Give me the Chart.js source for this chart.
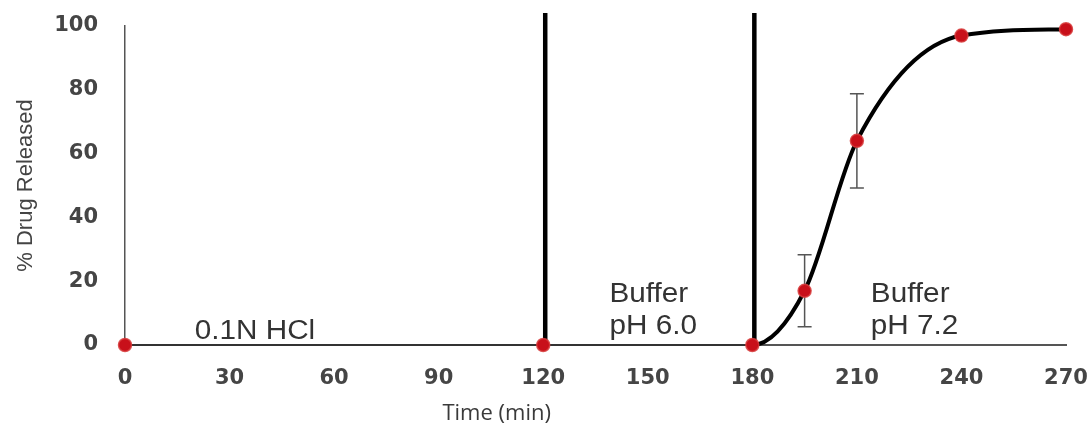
<!DOCTYPE html>
<html>
<head>
<meta charset="utf-8">
<script src="https://cdn.jsdelivr.net/npm/chart.js@4.4.0/dist/chart.umd.min.js"></script>
<style>
  html, body { margin: 0; background: #fff; }
  #wrap { width: 1092px; height: 433px; position: relative; }
</style>
</head>
<body>
<div id="wrap"><canvas id="myChart"></canvas></div>
<script>
const times = [0, 120, 180, 195, 210, 240, 270];
const released = [0, 0, 0, 17, 64, 97, 99];
const releasedSd = [0, 0, 0, 11.3, 14.8, 0, 0];
const phaseChanges = [120, 180];
const phaseNames = [['0.1N HCl'], ['Buffer', 'pH 6.0'], ['Buffer', 'pH 7.2']];
const phaseLabelAt = [20, 139, 214];
const xTicks = [0, 30, 60, 90, 120, 150, 180, 210, 240, 270];
const yTicks = [0, 20, 40, 60, 80, 100];
const xTitle = 'Time (min)';
const yTitle = '% Drug Released';

const ctx = document.getElementById('myChart');

// error bars + phase boundaries, drawn under the curve
const underlay = {
  id: 'underlay',
  beforeDatasetsDraw(chart) {
    const c = chart.ctx, x = chart.scales.x, y = chart.scales.y;
    c.save();
    c.strokeStyle = '#555';
    c.lineWidth = 1.5;
    releasedSd.forEach((sd, i) => {
      if (!sd) return;
      const px = x.getPixelForValue(times[i]);
      const top = y.getPixelForValue(released[i] + sd);
      const bot = y.getPixelForValue(released[i] - sd);
      c.beginPath();
      c.moveTo(px, top); c.lineTo(px, bot);
      c.moveTo(px - 7, top); c.lineTo(px + 7, top);
      c.moveTo(px - 7, bot); c.lineTo(px + 7, bot);
      c.stroke();
    });
    c.strokeStyle = '#000';
    c.lineWidth = 4.5;
    phaseChanges.forEach(t => {
      const px = x.getPixelForValue(t) + 2;
      c.beginPath();
      c.moveTo(px, y.getPixelForValue(0));
      c.lineTo(px, chart.chartArea.top - 13);
      c.stroke();
    });
    c.restore();
  },
  afterDraw(chart) {
    const c = chart.ctx, x = chart.scales.x, y = chart.scales.y;
    const base = y.getPixelForValue(0);
    c.save();
    c.fillStyle = '#333';
    c.font = '27px "Liberation Sans", Arial, sans-serif';
    c.textBaseline = 'alphabetic';
    phaseNames.forEach((lines, i) => {
      const px = x.getPixelForValue(phaseLabelAt[i]);
      lines.forEach((txt, j) => {
        const fromBottom = lines.length - 1 - j;
        const by = lines.length === 1 ? base - 6 : base - 11 - fromBottom * 32;
        c.save();
        c.translate(px, by);
        c.scale(1.1, 1);
        c.fillText(txt, 0, 0);
        c.restore();
      });
    });
    // x axis title
    c.fillStyle = '#3a3a3a';
    c.font = '22px "Open Sans", sans-serif';
    c.textAlign = 'center';
    c.textBaseline = 'middle';
    const a = chart.chartArea;
    c.fillText(xTitle, a.left + (a.right - a.left) * 0.395, 414);
    c.restore();
  }
};

new Chart(ctx, {
  type: 'line',
  data: {
    datasets: [{
      data: times.map((t, i) => ({ x: t, y: released[i] })),
      borderColor: '#000',
      borderWidth: 4,
      cubicInterpolationMode: 'monotone',
      tension: 0.4,
      pointRadius: 6.5,
      pointBackgroundColor: '#c8101a',
      pointBorderColor: 'rgba(215,60,60,0.85)',
      pointBorderWidth: 1.5,
      clip: false,
      segment: {
        borderWidth: s => s.p1DataIndex <= 2 ? 2 : 4,
        borderColor: s => s.p1DataIndex <= 2 ? '#333' : '#000'
      }
    }]
  },
  options: {
    responsive: true,
    maintainAspectRatio: false,
    animation: false,
    events: [],
    layout: { padding: { left: 0, right: 26, top: 26, bottom: 0 } },
    plugins: { legend: { display: false }, tooltip: { enabled: false } },
    scales: {
      x: {
        type: 'linear',
        min: 0,
        max: 270,
        afterBuildTicks: s => { s.ticks = xTicks.map(v => ({ value: v })); },
        afterFit: s => { s.height = 88; s.paddingLeft = 0; s.paddingRight = 0; },
        grid: { display: false, drawTicks: false },
        border: { display: true, color: '#555', width: 2 },
        ticks: {
          padding: 21,
          color: '#454545',
          font: { family: 'DejaVu Sans', size: 21, weight: 'bold' }
        }
      },
      y: {
        min: 0,
        max: 100,
        afterBuildTicks: s => { s.ticks = yTicks.map(v => ({ value: v })); },
        afterFit: s => { s.width = 125; s.paddingTop = 0; s.paddingBottom = 0; },
        grid: { display: false, drawTicks: false },
        border: { display: true, color: '#555', width: 1.5 },
        ticks: {
          padding: 27,
          color: '#454545',
          font: { family: 'DejaVu Sans', size: 21, weight: 'bold' }
        },
        title: {
          display: true,
          text: yTitle,
          color: '#444',
          padding: { top: 13, bottom: 0 },
          font: { family: 'Liberation Sans', size: 22 }
        }
      }
    }
  },
  plugins: [underlay]
});
</script>
</body>
</html>
